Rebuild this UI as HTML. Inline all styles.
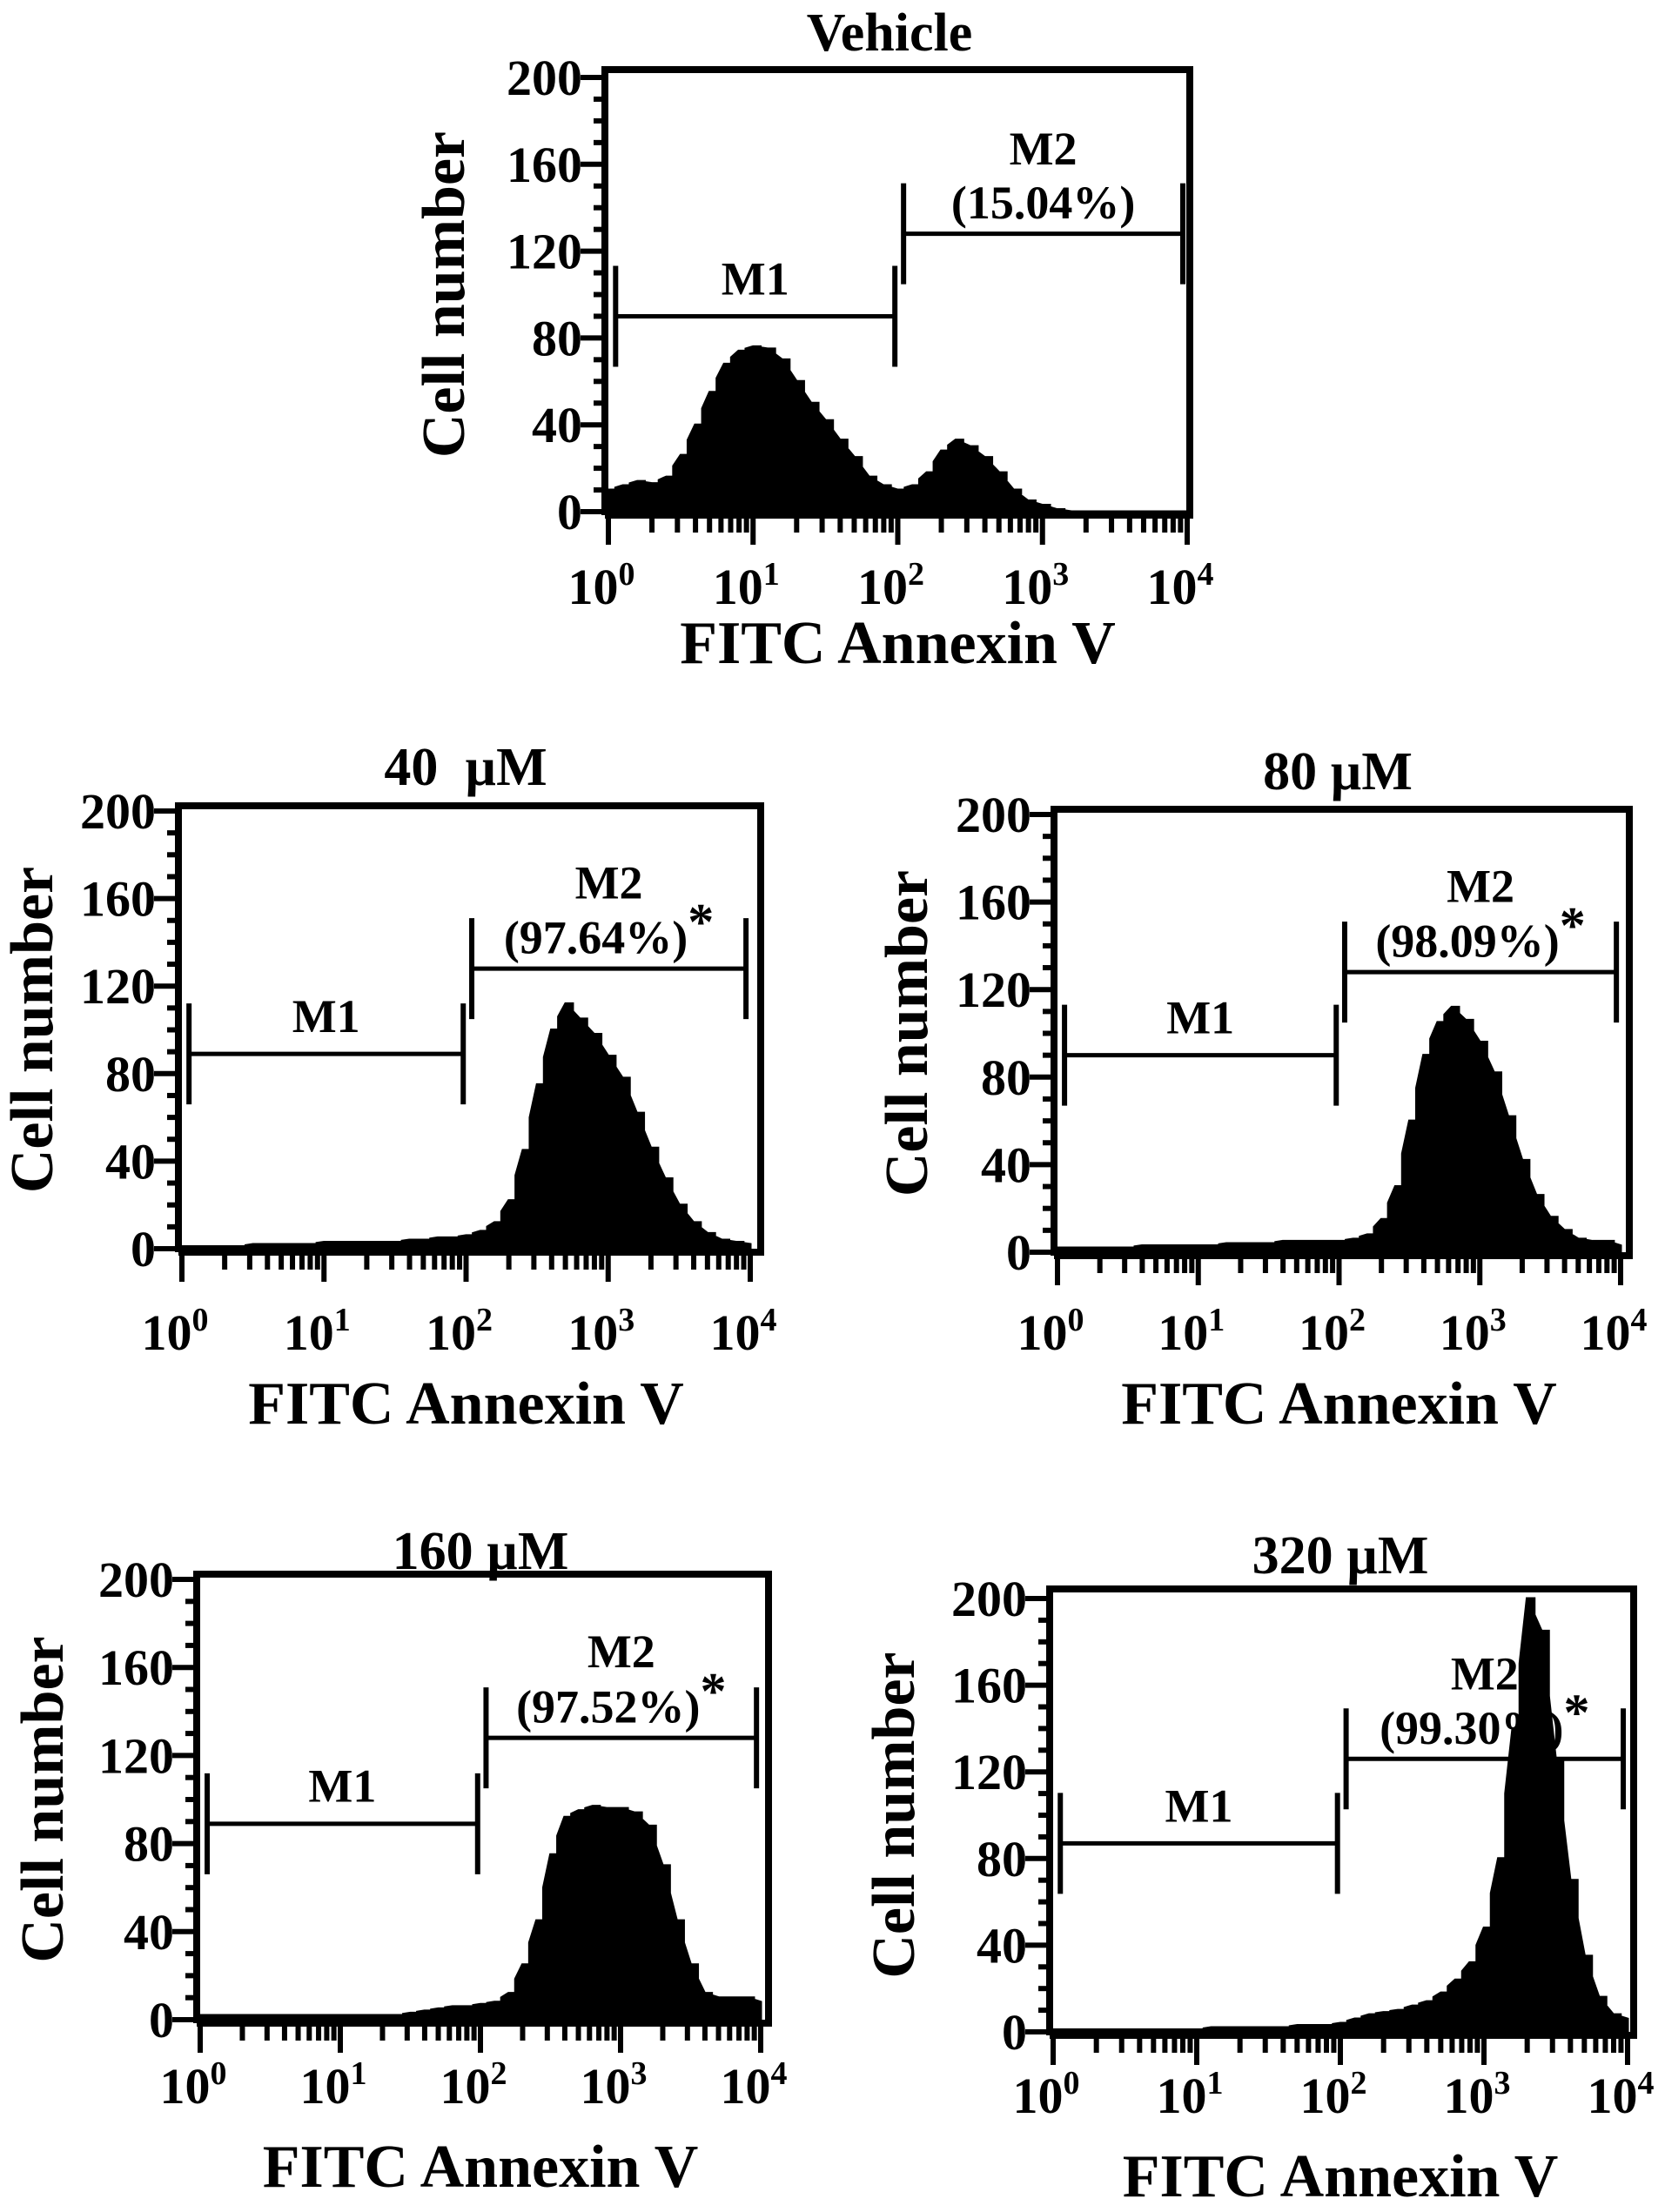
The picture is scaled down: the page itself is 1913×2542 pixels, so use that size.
<!DOCTYPE html>
<html><head><meta charset="utf-8">
<style>
html,body{margin:0;padding:0;background:#fff;}
svg{display:block;}
text{font-family:"Liberation Serif","Times New Roman",serif;font-weight:bold;fill:#000;}
</style></head>
<body>
<svg id="fig" width="1913" height="2542" viewBox="0 0 1913 2542" xmlns="http://www.w3.org/2000/svg"></svg>
<script>
// log10 positions of histogram samples (0..4 step 0.1)
const logBins = [0,0.1,0.2,0.3,0.4,0.5,0.6,0.7,0.8,0.9,1.0,1.1,1.2,1.3,1.4,1.5,1.6,1.7,1.8,1.9,2.0,2.1,2.2,2.3,2.4,2.5,2.6,2.7,2.8,2.9,3.0,3.1,3.2,3.3,3.4,3.5,3.6,3.7,3.8,3.9,4.0];
const vehicleCounts = [10,12,14,13,16,26,40,55,68,74,76,75,70,60,50,42,33,25,16,12,10,12,18,28,33,30,25,18,10,5,3,1,0,0,0,0,0,0,0,0,0];
const uM40Counts = [1,1,1,1,1,2,2,2,2,2,3,3,3,3,3,3,4,4,5,5,6,8,12,22,45,75,100,112,105,98,88,78,62,46,32,20,12,7,4,3,2];
const uM80Counts = [2,2,2,2,2,2,3,3,3,3,3,3,4,4,4,4,5,5,5,5,5,6,8,15,30,60,90,105,112,106,96,82,62,42,26,16,10,6,5,5,3];
const uM160Counts = [2,2,2,2,2,2,2,2,2,2,2,2,2,2,2,3,4,5,6,6,7,8,12,25,45,75,92,95,97,96,96,94,88,70,45,25,12,10,10,10,8];
const uM320Counts = [1,1,1,1,1,1,1,1,1,1,1,2,2,2,2,2,2,3,3,3,4,6,8,9,10,12,14,18,24,32,48,80,140,200,185,125,70,35,16,8,6];
const yTicks = [0,40,80,120,160,200];
const xTickExp = ["0","1","2","3","4"];
const gateM1 = [0.05,1.98];
const gateM2 = [2.04,3.97];
const panelTitles = ["Vehicle","40\u00a0\u00a0\u00b5M","80 \u00b5M","160 \u00b5M","320 \u00b5M"];
const panelPcts = ["(15.04%)","(97.64%)","(98.09%)","(97.52%)","(99.30%)"];
const panelStars = [false,true,true,true,true];
const gateLevelsM1 = [90,89,90,89,87];
const gateLevelsM2 = [128,128,128,128,126];
const panelCounts = [vehicleCounts,uM40Counts,uM80Counts,uM160Counts,uM320Counts];

const layouts = [
 {x0:699,x1:1364,y200:89,y0:588,right:1367,top:80,tx:1022,ty:37,tick:673,xt:738,cn:511,name:'vehicle'},
 {x0:209,x1:862,y200:932,y0:1435,right:874,top:926,tx:535,ty:881,tick:1530,xt:1612,cn:38,name:'40um'},
 {x0:1215,x1:1862,y200:936,y0:1439,right:1872,top:930,tx:1537,ty:886,tick:1530,xt:1612,cn:1043,name:'80um'},
 {x0:230,x1:874,y200:1815,y0:2321,right:883,top:1809,tx:552,ty:1782,tick:2396,xt:2489,cn:50,name:'160um'},
 {x0:1210,x1:1870,y200:1837,y0:2335,right:1877,top:1826,tx:1540,ty:1787,tick:2407,xt:2500,cn:1028,name:'320um'}
];
const NS='http://www.w3.org/2000/svg';
const svg=document.getElementById('fig');
function mk(tag,attrs,parent){const e=document.createElementNS(NS,tag);for(const k in attrs)e.setAttribute(k,attrs[k]);(parent||svg).appendChild(e);return e;}

layouts.forEach((L,i)=>{
  const g=mk('g',{});
  
  
  const X=v=>L.x0+(v/4)*(L.x1-L.x0);
  const Y=v=>L.y0-(v/200)*(L.y0-L.y200);
  // histogram (stepped)
  const counts=panelCounts[i];
  let d='M'+X(logBins[0])+','+L.y0;
  logBins.forEach((b,k)=>{
    const nb=k<logBins.length-1?logBins[k+1]:b;
    d+=' L'+X(b)+','+Y(counts[k])+' L'+X((b+nb)/2)+','+Y(counts[k]);
    if(k<logBins.length-1) d+=' L'+X((b+nb)/2)+','+Y((counts[k]+counts[k+1])/2);
  });
  d+=' L'+X(logBins[logBins.length-1])+','+L.y0+' Z';
  const h=mk('path',{d:d,fill:'#000',stroke:'#000','stroke-width':3},g);
  
  
  // frame
  const left=L.x0-4;
  const fr=mk('path',{d:`M${left},${L.y0+4} L${left},${L.top} L${L.right},${L.top} L${L.right},${L.y0+4} L${left},${L.y0+4}`,fill:'none',stroke:'#000','stroke-width':8},g);
  
  
  // y ticks
  for(let v=0;v<=200;v+=10){
    const major=v%40===0;
    mk('line',{x1:left,x2:left-(major?28:13),y1:Y(v),y2:Y(v),stroke:'#000','stroke-width':6},g);
  }
  yTicks.forEach(v=>{
    const t=mk('text',{x:left-26,y:Y(v)+20,'text-anchor':'end','font-size':58},g);
    t.textContent=v;
    
    
  });
  // x ticks
  for(let dcd=0;dcd<4;dcd++){
    for(let m=1;m<=9;m++){
      const v=dcd+Math.log10(m);
      mk('line',{x1:X(v),x2:X(v),y1:L.y0+4,y2:L.y0+(m===1?38:24),stroke:'#000','stroke-width':6},g);
    }
  }
  mk('line',{x1:X(4),x2:X(4),y1:L.y0+4,y2:L.y0+38,stroke:'#000','stroke-width':6},g);
  xTickExp.forEach((e,k)=>{
    const t=mk('text',{x:X(k)-8,y:L.tick+21,'text-anchor':'middle','font-size':58},g);
    t.textContent='10';
    const s=mk('tspan',{dy:-22,'font-size':38},t);
    s.textContent=e;
    
    
  });
  // gates
  const gl=(a,b,lv,nm)=>{
    const gg=mk('g',{stroke:'#000','stroke-width':5},g);
    
    
    mk('line',{x1:X(a),x2:X(b),y1:Y(lv),y2:Y(lv)},gg);
    mk('line',{x1:X(a),x2:X(a),y1:Y(lv)-58,y2:Y(lv)+58,'stroke-width':6},gg);
    mk('line',{x1:X(b),x2:X(b),y1:Y(lv)-58,y2:Y(lv)+58,'stroke-width':6},gg);
  };
  gl(gateM1[0],gateM1[1],gateLevelsM1[i],'gate-m1');
  gl(gateM2[0],gateM2[1],gateLevelsM2[i],'gate-m2');
  const m1=mk('text',{x:X((gateM1[0]+gateM1[1])/2),y:Y(gateLevelsM1[i]+10),'text-anchor':'middle','font-size':54},g);
  m1.textContent='M1';
  
  
  const cx=X((gateM2[0]+gateM2[1])/2);
  const m2=mk('text',{x:cx,y:Y(gateLevelsM2[i]+32),'text-anchor':'middle','font-size':54},g);
  m2.textContent='M2';
  
  
  const pc=mk('text',{x:cx,y:Y(gateLevelsM2[i]+7),'text-anchor':'middle','font-size':54},g);
  pc.textContent=panelPcts[i];
  
  
  if(panelStars[i]){
    const st=mk('tspan',{dy:-16,'font-size':60},pc);
    st.textContent='*';
    
    
  }
  // titles
  const tt=mk('text',{x:L.tx,y:L.ty+21,'text-anchor':'middle','font-size':62},g);
  tt.textContent=panelTitles[i];
  
  
  const xt=mk('text',{x:(L.x0+L.x1)/2,y:L.xt+24,'text-anchor':'middle','font-size':70},g);
  xt.textContent='FITC Annexin V';
  
  
  const cy=(L.y0+L.y200)/2;
  const yt=mk('text',{x:L.cn+22,y:cy,'text-anchor':'middle','font-size':70,transform:`rotate(-90 ${L.cn+22} ${cy})`},g);
  yt.textContent='Cell number';
  
  
});
</script>
</body></html>
